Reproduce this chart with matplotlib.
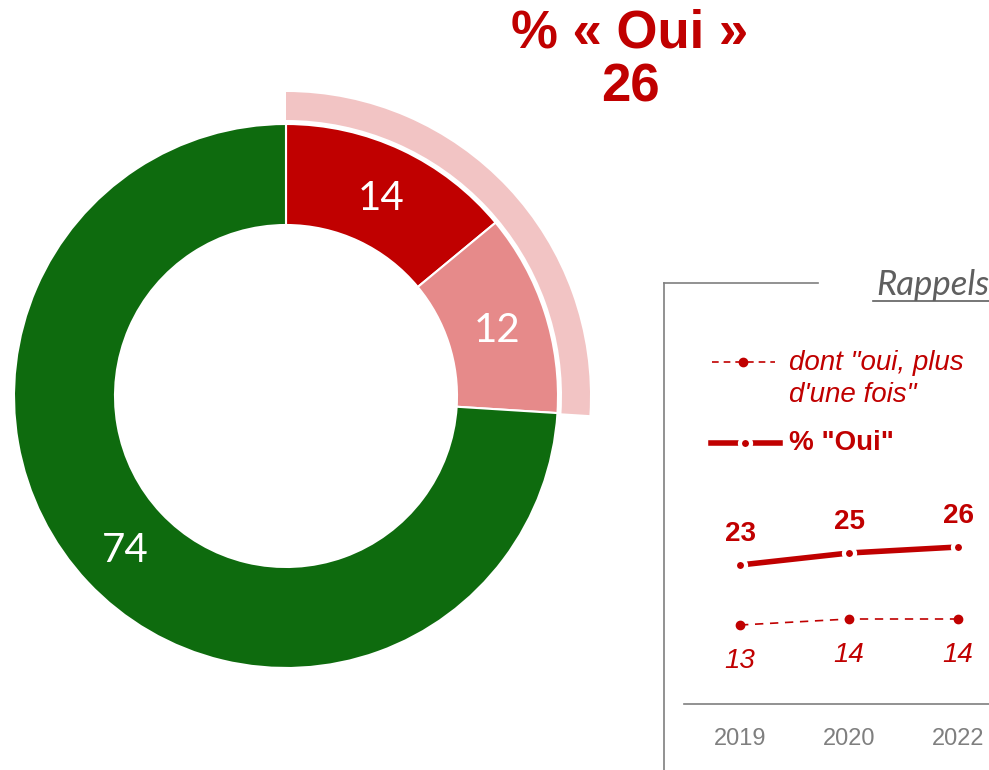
import matplotlib.pyplot as plt
from matplotlib.lines import Line2D

# donut
parts = [14, 12, 74]
part_colors = ['#c00000', '#e68a8a', '#0e6b0e']
total_oui = 26

# rappels
years = ['2019', '2020', '2022']
oui = [23, 25, 26]
plus_une_fois = [13, 14, 14]

red = '#c00000'
grey = '#7f7f7f'

fig = plt.figure(figsize=(9.89, 7.70), dpi=100)

# full-figure axes in pixel units (y up)
ax = fig.add_axes([0, 0, 1, 1])
cx, cy = 286, 770 - 396
r_out, r_in = 272, 171

wedges, _ = ax.pie(parts, colors=part_colors, startangle=90, counterclock=False,
                   radius=r_out, center=(cx, cy),
                   wedgeprops=dict(width=r_out - r_in, edgecolor='white', linewidth=1.5))
ax.pie([total_oui, 100 - total_oui], colors=['#f2c4c4', 'none'], startangle=90,
       counterclock=False, radius=304, center=(cx, cy),
       wedgeprops=dict(width=28, edgecolor='none'))

label_pos = [(381, 199), (497, 330), (125, 550)]
for v, (x, y) in zip(parts, label_pos):
    ax.text(x, 770 - y, str(v), color='white', fontsize=29, family='Lato',
            ha='center', va='center')

ax.text(630, 770 - 34, '% « Oui »', color=red, fontsize=38, fontweight='bold',
        family='Liberation Sans', ha='center', va='center')
ax.text(630, 770 - 87, str(total_oui), color=red, fontsize=38, fontweight='bold',
        family='Liberation Sans', ha='center', va='center')

# Rappels box
ax.add_line(Line2D([664, 664], [0, 770 - 283], color=grey, lw=1.2))
ax.add_line(Line2D([664, 818], [770 - 283, 770 - 283], color=grey, lw=1.2))
ax.text(989, 770 - 285, 'Rappels', color='#5f5f5f', fontsize=25, style='italic',
        family='Lato', ha='right', va='center')
ax.add_line(Line2D([873, 989], [770 - 301, 770 - 301], color='#5f5f5f', lw=1.2))

# legend, drawn by hand so the sample sits on the first text line
ax.add_line(Line2D([712, 775], [770 - 362, 770 - 362], color=red, lw=1.2,
                   ls=(0, (4, 3))))
ax.plot([743], [770 - 362], 'o', color=red, markersize=6)
ax.text(789, 770 - 379, 'dont "oui, plus\nd\'une fois"', color=red, fontsize=20,
        style='italic', family='Liberation Sans', ha='left', va='center',
        linespacing=1.35)
ax.add_line(Line2D([711, 780], [770 - 443, 770 - 443], color=red, lw=4))
ax.plot([745], [770 - 443], 'o', color=red, markersize=8, markeredgecolor='white',
        markeredgewidth=3)
ax.text(789, 770 - 443, '% "Oui"', color=red, fontsize=20, fontweight='bold',
        family='Liberation Sans', ha='left', va='center')
ax.set_xlim(0, 989)
ax.set_ylim(0, 770)
ax.set_aspect('auto')
ax.axis('off')

# line chart
lx = fig.add_axes([684 / 989, (770 - 704) / 770, (989 - 684) / 989, (704 - 470) / 770])
xs = list(range(len(years)))
lx.plot(xs, plus_une_fois, color=red, lw=1.2, ls=(0, (5, 4)), marker='o',
        markersize=6, markeredgecolor=red)
lx.plot(xs, oui, color=red, lw=4, marker='o', markersize=8,
        markeredgecolor='white', markeredgewidth=3)
lx.set_xlim(-0.514, 2.284)
lx.set_ylim(13 - 79 / 6, 26 + 77 / 6)
for x, v in zip(xs, oui):
    lx.annotate(str(v), (x, v), xytext=(0, 22.5), textcoords='offset points',
                color=red, fontsize=20, fontweight='bold', family='Liberation Sans',
                ha='center', va='center')
for x, v in zip(xs, plus_une_fois):
    lx.annotate(str(v), (x, v), xytext=(0, -26), textcoords='offset points',
                color=red, fontsize=20, style='italic', family='Liberation Sans',
                ha='center', va='center')
lx.set_xticks(xs)
lx.set_xticklabels(years, color=grey, fontsize=17, family='Liberation Sans')
lx.tick_params(axis='x', length=0, pad=17)
lx.set_yticks([])
for s in ['top', 'left', 'right']:
    lx.spines[s].set_visible(False)
lx.spines['bottom'].set_color(grey)
lx.spines['bottom'].set_linewidth(1.2)
lx.patch.set_alpha(0)

fig.savefig('out.png', dpi=100)
